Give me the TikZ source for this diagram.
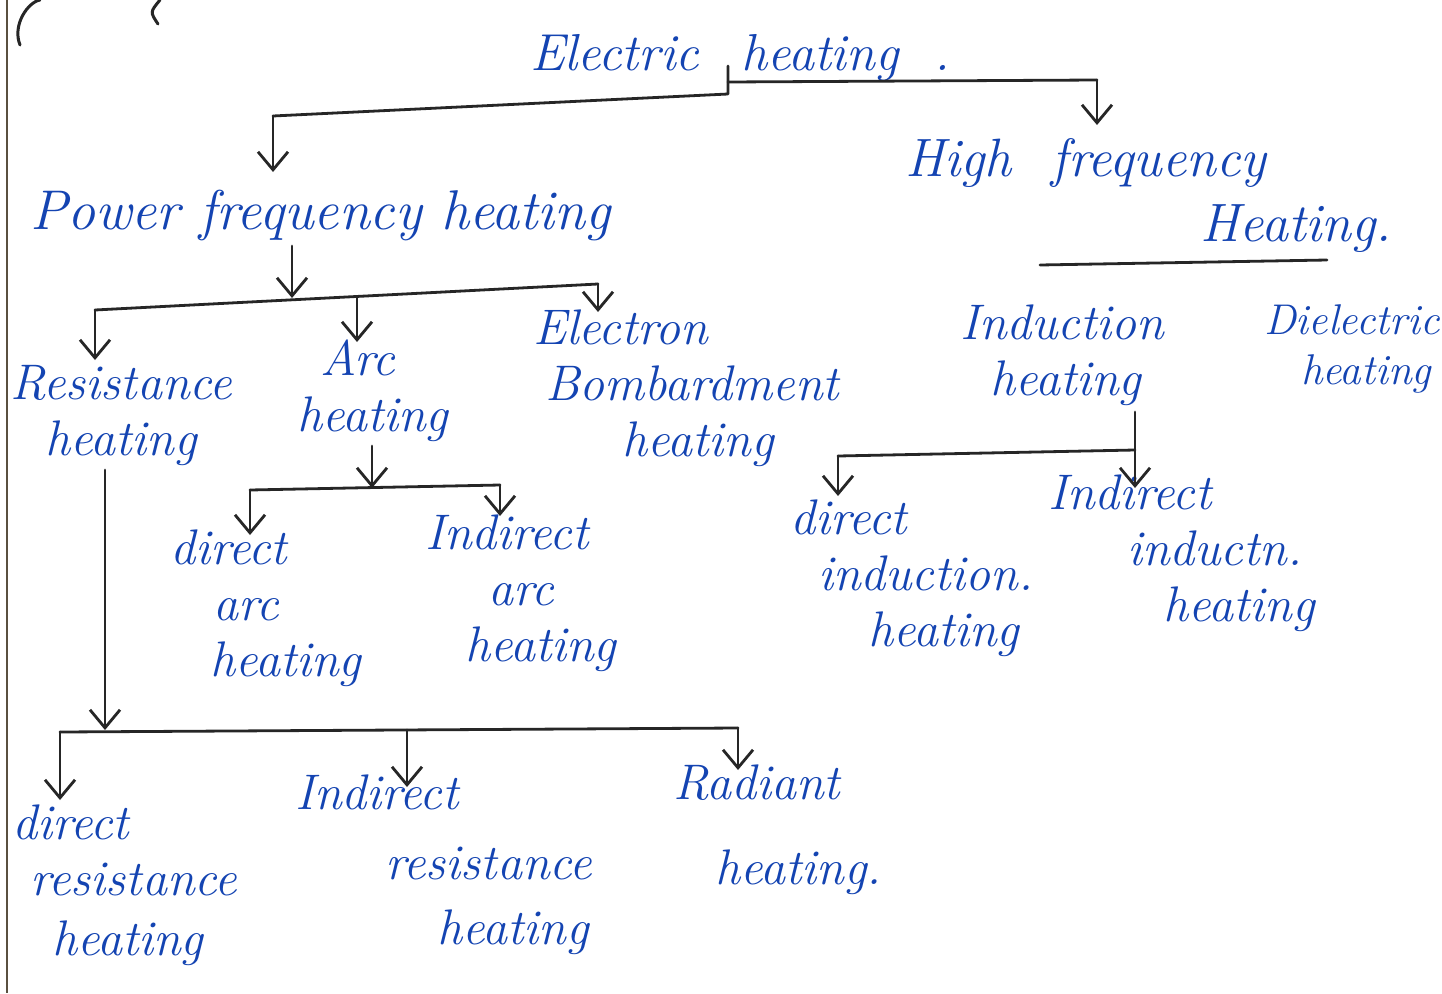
\documentclass[tikz,border=0pt]{standalone}
\usetikzlibrary{arrows.meta}
\definecolor{inkblue}{RGB}{20,68,178}
\definecolor{margin}{RGB}{90,80,64}
\begin{document}
\begin{tikzpicture}[x=1pt,y=-1pt,
  lbl/.style={text=inkblue, font=\itshape\fontsize{50}{56}\selectfont, inner sep=0pt, anchor=north west, align=left},
  big/.style={lbl, font=\itshape\fontsize{56}{62}\selectfont},
  link/.style={draw=black!85, line width=2.8pt, line cap=round, line join=round},
  arr/.style={link, -{Straight Barb[length=18pt,width=30pt]}}]
\useasboundingbox[fill=white] (0,0) rectangle (1442,993);
% margin and fragments
\draw[margin, line width=2.6pt] (7,0) -- (7,993);
\draw[black!85, line width=3pt, line cap=round] (20,45) .. controls (12,25) and (28,2) .. (40,0);
\draw[black!85, line width=3pt, line cap=round] (158,24) .. controls (150,12) .. (160,0);
% labels
\node[big, font=\itshape\fontsize{52}{58}\selectfont] (elec) at (530,34) {Electric\hspace{42pt}heating\hspace{36pt}.};
\node[big] (pf) at (30,190) {Power frequency heating};
\node[big, font=\itshape\fontsize{54}{60}\selectfont] (hf) at (905,138) {High\hspace{40pt}frequency\\[5pt]\hspace*{295pt}Heating.};
\node[lbl] (res) at (10,365) {Resistance\\\hspace*{35pt}heating};
\node[lbl] (arc) at (297,340) {\hspace*{23pt}Arc\\heating};
\node[lbl] (ebh) at (533,310) {Electron\\\hspace*{12pt}Bombardment\\\hspace*{89pt}heating};
\node[lbl] (ind) at (960,305) {Induction\\\hspace*{30pt}heating};
\node[lbl, font=\itshape\fontsize{43}{50}\selectfont] (die) at (1264,304) {Dielectric\\\hspace*{37pt}heating};
\node[lbl] (darc) at (170,530) {direct\\\hspace*{43pt}arc\\\hspace*{40pt}heating};
\node[lbl] (iarc) at (425,515) {Indirect\\\hspace*{63pt}arc\\\hspace*{40pt}heating};
\node[lbl] (dind) at (790,500) {direct\\\hspace*{28pt}induction.\\\hspace*{78pt}heating};
\node[lbl] (iind) at (1048,475) {Indirect\\\hspace*{79pt}inductn.\\\hspace*{115pt}heating};
\node[lbl] (dres) at (12,805) {direct\\\hspace*{18pt}resistance\\[4pt]\hspace*{40pt}heating};
\node[lbl] (ires) at (295,775) {Indirect\\[14pt]\hspace*{90pt}resistance\\[9pt]\hspace*{142pt}heating};
\node[lbl] (rad) at (673,765) {Radiant\\[29pt]\hspace*{42pt}heating.};
% connectors: top level
\coordinate (e0) at (728,66);
\coordinate (j0) at (728,94);
\coordinate (c1) at (273,116);
\coordinate (c2) at (728,82);
\coordinate (c3) at (1097,80);
\draw[link] (e0) -- (j0) -- (c1);
\draw[arr] (c1) -- (273,172);
\draw[link] (c2) -- (c3);
\draw[arr] (c3) -- ++(0,45);
\draw[link] (1040,265) -- (1327,260);
% power frequency branches
\coordinate (p1) at (292,246);
\coordinate (j1) at (292,298);
\coordinate (r0) at (95,310);
\coordinate (r3) at (598,284);
\draw[arr] (p1) -- (j1);
\draw[link] (r0) -- (r3);
\draw[arr] (r0) -- (95,360);
\draw[arr] (357,297) -- (357,342);
\draw[arr] (r3) -- (598,312);
% arc branches
\coordinate (a1) at (372,446);
\coordinate (a2) at (250,490);
\coordinate (a3) at (500,485);
\draw[arr] (a1) -- (372,488);
\draw[link] (a2) -- (a3);
\draw[arr] (a2) -- (250,535);
\draw[arr] (a3) -- (500,516);
% induction branches
\coordinate (i1) at (838,456);
\coordinate (i2) at (1135,450);
\draw[link] (1135,412) -- (i2);
\draw[link] (i1) -- (i2);
\draw[arr] (i1) -- (838,496);
\draw[arr] (i2) -- (1135,488);
% resistance branches
\coordinate (s0) at (105,470);
\coordinate (s1) at (60,732);
\coordinate (s3) at (738,728);
\draw[arr] (s0) -- (105,730);
\draw[link] (s1) -- (s3);
\draw[arr] (s1) -- (60,800);
\draw[arr] (407,730) -- (407,787);
\draw[arr] (s3) -- (738,770);
\end{tikzpicture}
\end{document}
